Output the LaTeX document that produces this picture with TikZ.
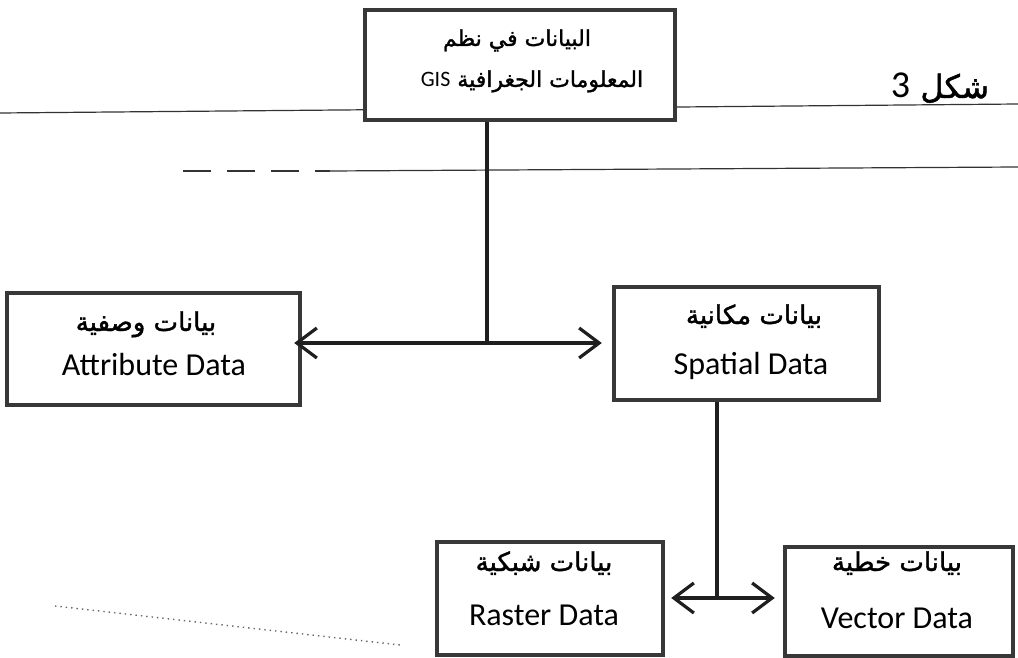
\documentclass[tikz,border=0pt]{standalone}
\usepackage{fontspec}
\setmainfont{Carlito}
\newfontfamily\ar[Script=Arabic,FakeBold=1.5]{DejaVu Sans}
\TeXXeTstate=1
\usetikzlibrary{arrows.meta,calc}

\tikzset{
  box/.style={draw=black!78, line width=2.2pt, rectangle, inner sep=0pt},
  arl/.style={font=\ar\fontsize{13}{15}\selectfont, anchor=base, inner sep=0pt},
  arsmall/.style={font=\ar\fontsize{11}{13}\selectfont, anchor=base, inner sep=0pt},
  enl/.style={font=\fontsize{16}{18}\selectfont, anchor=base, inner sep=0pt},
  link/.style={draw=black!88, line width=2pt},
  barb/.tip={Straight Barb[length=10pt,width=15pt,line width=1.6pt]},
  biarrow/.style={link, barb-barb},
  rule/.style={draw=black!80, line width=0.6pt},
}

\begin{document}
\begin{tikzpicture}[x=0.5pt,y=-0.5pt]
\useasboundingbox (0,0) rectangle (1018,658);

% page rules behind the chart
\draw[rule] (0,113) -- (1018,104);
\draw[rule, dashed, dash pattern=on 14pt off 8pt] (183,171) -- (330,171);
\draw[rule] (330,171) -- (1018,167);
\draw[black!60, line width=0.7pt, dotted] (55,606) -- (400,645);

% caption
\node[anchor=base, inner sep=0pt] (cap) at (940,98)
  {\ar\fontsize{16}{18}\selectfont\beginR شكل \beginL{\normalfont\fontsize{19}{19}\selectfont 3}\endL\endR};

% boxes
\node[box, fill=white, minimum width=155pt, minimum height=55pt] (gis) at (520,65) {};
\node[box, minimum width=146.5pt, minimum height=56pt] (attr) at (153.5,349) {};
\node[box, minimum width=132.5pt, minimum height=56.5pt] (spat) at (746.5,343.5) {};
\node[box, minimum width=113pt, minimum height=56.5pt] (rast) at (550,598.5) {};
\node[box, minimum width=114pt, minimum height=54.5pt] (vect) at (899,601.5) {};

% box texts
\node[arsmall] (gis-a) at (517,46) {\beginR البيانات في نظم\endR};
\node[arsmall] (gis-b) at (532,87)
  {\beginR المعلومات الجغرافية \beginL{\normalfont\fontsize{11}{13}\selectfont GIS}\endL\endR};
\node[arl] (attr-a) at (146,331) {\beginR بيانات وصفية\endR};
\node[enl] (attr-e) at (154,375) {Attribute Data};
\node[arl] (spat-a) at (754,324) {\beginR بيانات مكانية\endR};
\node[enl] (spat-e) at (751,374) {Spatial Data};
\node[arl] (rast-a) at (544,571) {\beginR بيانات شبكية\endR};
\node[enl] (rast-e) at (544,625) {Raster Data};
\node[arl] (vect-a) at (897,571) {\beginR بيانات خطية\endR};
\node[enl] (vect-e) at (897,628) {Vector Data};

% junctions of the connectors
\coordinate (j1) at (487,343);
\coordinate (j2) at (717,598);

% GIS data splits into attribute and spatial data
\draw[link] (gis.south -| j1) -- (j1);
\draw[biarrow] ($(attr.east |- j1)+(-8,0)$) -- ($(spat.west |- j1)+(-10,0)$);

% spatial data splits into raster and vector data
\draw[link] (spat.south -| j2) -- (j2);
\draw[biarrow] ($(rast.east |- j2)+(6,0)$) -- ($(vect.west |- j2)+(-8,0)$);
\end{tikzpicture}
\end{document}
